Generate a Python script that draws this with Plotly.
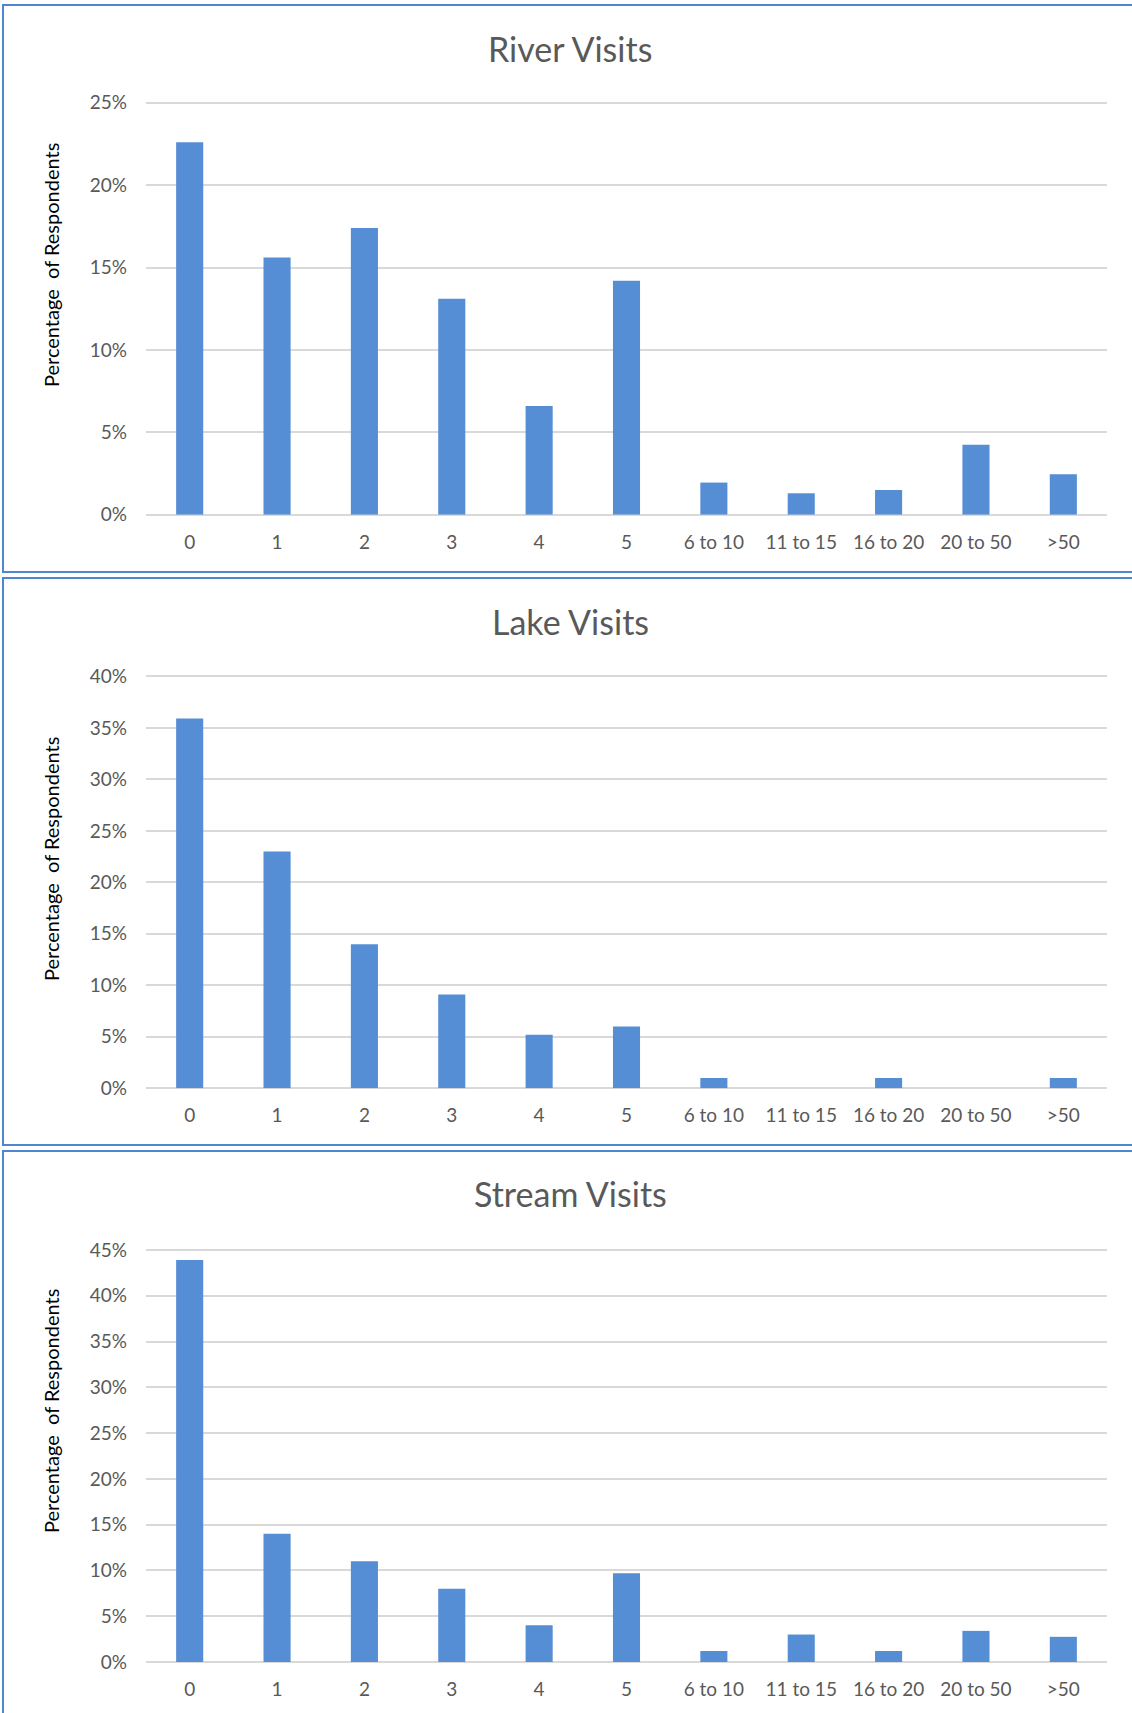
import plotly.graph_objects as go

categories = ["0", "1", "2", "3", "4", "5", "6 to 10", "11 to 15", "16 to 20", "20 to 50", ">50"]
river = [22.6, 15.6, 17.4, 13.1, 6.6, 14.2, 1.95, 1.3, 1.5, 4.25, 2.45]
lake = [35.9, 23.0, 14.0, 9.1, 5.2, 6.0, 1.0, 0.0, 1.0, 0.0, 1.0]
stream = [43.9, 14.0, 11.0, 8.0, 4.0, 9.7, 1.2, 3.0, 1.2, 3.4, 2.75]

titles = ["River Visits", "Lake Visits", "Stream Visits"]
series = [river, lake, stream]
y_max = [25, 40, 45]

W, H = 1132, 1713
FONT = "Lato"
GREY = "#595959"
BAR = "#558ED5"
PAD = 0.008  # small headroom so the top gridline is drawn

# pixel layout of each panel: (box top, box bottom, plot top, plot bottom, title y, axis-title y)
panels = [
    (5, 572, 102.7, 514.7, 49, 265),
    (578, 1145, 676.4, 1088.3, 621, 859),
    (1151, 1716, 1250, 1662, 1193, 1411),
]
plot_left, plot_right = 146, 1107


def px(x):
    return x / W


def py(y):
    return 1 - y / H


fig = go.Figure()
shapes = []
annotations = []
for i, (vals, title, ymax, p) in enumerate(zip(series, titles, y_max, panels)):
    n = "" if i == 0 else str(i + 1)
    fig.add_trace(go.Bar(x=categories, y=vals, xaxis="x" + n, yaxis="y" + n,
                         marker=dict(color=BAR, line=dict(width=0)),
                         showlegend=False, hoverinfo="skip"))
    box_top, box_bot, top, bot, ty, ay = p
    top_ext = top - (bot - top) * PAD
    ticks = list(range(0, ymax + 1, 5))
    fig.update_layout(**{
        "xaxis" + n: dict(domain=[px(plot_left), px(plot_right)], anchor="y" + n,
                          type="category", showgrid=False, showline=False, zeroline=False,
                          ticks="", ticklabelstandoff=14, automargin=False,
                          tickfont=dict(family=FONT, size=19, color=GREY)),
        "yaxis" + n: dict(domain=[py(bot), py(top_ext)], anchor="x" + n,
                          range=[0, ymax * (1 + PAD)], tickvals=ticks,
                          ticktext=[f"{t}%" for t in ticks],
                          showgrid=True, gridcolor="#D9D9D9", gridwidth=1.5,
                          zeroline=True, zerolinecolor="#D9D9D9", zerolinewidth=1.5,
                          showline=False, ticks="", ticklabelstandoff=18, automargin=False,
                          tickfont=dict(family=FONT, size=19, color=GREY)),
    })
    shapes.append(dict(type="rect", xref="paper", yref="paper",
                       x0=px(3), x1=px(1140), y0=py(box_bot), y1=py(box_top),
                       line=dict(color="#4F86D1", width=2), fillcolor="rgba(0,0,0,0)"))
    annotations.append(dict(text=title, xref="paper", yref="paper", x=px(570), y=py(ty),
                            xanchor="center", yanchor="middle", showarrow=False,
                            font=dict(family=FONT, size=34, color=GREY)))
    annotations.append(dict(text="Percentage  of Respondents", xref="paper", yref="paper",
                            x=px(51), y=py(ay), xanchor="center", yanchor="middle",
                            textangle=-90, showarrow=False,
                            font=dict(family=FONT, size=20, color="#000000")))

fig.update_layout(width=W, height=H, margin=dict(l=0, r=0, t=0, b=0, autoexpand=False),
                  paper_bgcolor="white", plot_bgcolor="white",
                  bargap=0.69, shapes=shapes, annotations=annotations)

fig.write_html("out.html", config={"displayModeBar": False},
               post_script="document.body.style.margin='0';")
